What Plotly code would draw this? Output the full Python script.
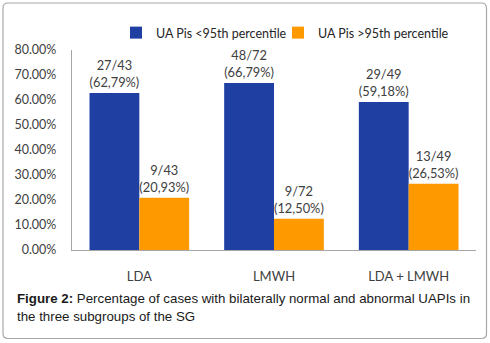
import plotly.graph_objects as go

categories = ["LDA", "LMWH", "LDA + LMWH"]
below_95 = [62.79, 66.79, 59.18]
above_95 = [20.93, 12.50, 26.53]
below_labels = ["27/43<br>(62,79%)", "48/72<br>(66,79%)", "29/49<br>(59,18%)"]
above_labels = ["9/43<br>(20,93%)", "9/72<br>(12,50%)", "13/49<br>(26,53%)"]
y_ticks = [0, 10, 20, 30, 40, 50, 60, 70, 80]
y_tick_labels = ["0.00%", "10.00%", "20.00%", "30.00%", "40.00%", "50.00%", "60.00%", "70.00%", "80.00%"]

W, H = 490, 343
L, R, T, B = 72, 14, 50, 93
PW, PH = W - L - R, H - T - B

def px(x):
    return (x - L) / PW

def py(y):
    return (H - B - y) / PH

BLUE = "#1F3FA2"
ORANGE = "#FF9900"
TXT = "#404040"
FONT = "Lato, Open Sans, sans-serif"

fig = go.Figure()
fig.add_trace(go.Bar(
    x=categories, y=below_95, name="UA Pis <95th percentile",
    marker=dict(color=BLUE, line=dict(width=0)),
    text=below_labels, textposition="outside", cliponaxis=False,
    textfont=dict(color=TXT, size=13, family=FONT), legend="legend",
))
fig.add_trace(go.Bar(
    x=categories, y=above_95, name="UA Pis >95th percentile",
    marker=dict(color=ORANGE, line=dict(width=0)),
    text=above_labels, textposition="outside", cliponaxis=False,
    textfont=dict(color=TXT, size=13, family=FONT), legend="legend2",
))

# rounded border
x0, x1, y0, y1, r = 3, 486.5, 3, 338.5, 5
path = (f"M {px(x0 + r)} {py(y0)} L {px(x1 - r)} {py(y0)} "
        f"Q {px(x1)} {py(y0)} {px(x1)} {py(y0 + r)} "
        f"L {px(x1)} {py(y1 - r)} Q {px(x1)} {py(y1)} {px(x1 - r)} {py(y1)} "
        f"L {px(x0 + r)} {py(y1)} Q {px(x0)} {py(y1)} {px(x0)} {py(y1 - r)} "
        f"L {px(x0)} {py(y0 + r)} Q {px(x0)} {py(y0)} {px(x0 + r)} {py(y0)} Z")
fig.add_shape(type="path", path=path, xref="paper", yref="paper",
              line=dict(color="#A8A8A8", width=1.2), layer="below")

CAP = "Liberation Sans, Arial, sans-serif"
fig.add_annotation(xref="paper", yref="paper", x=px(15), y=py(298), xanchor="left", yanchor="middle",
                   text="<b>Figure 2:</b> Percentage of cases with bilaterally normal and abnormal UAPIs in",
                   showarrow=False, font=dict(family=CAP, size=13.3, color="#1a1a1a"))
fig.add_annotation(xref="paper", yref="paper", x=px(15), y=py(316), xanchor="left", yanchor="middle",
                   text="the three subgroups of the SG",
                   showarrow=False, font=dict(family=CAP, size=13.3, color="#1a1a1a"))

legend_common = dict(orientation="h", yanchor="middle", xanchor="left",
                     font=dict(family=FONT, size=12.5, color="#262626"),
                     bgcolor="rgba(0,0,0,0)", itemclick=False)

fig.update_layout(
    width=W, height=H,
    margin=dict(l=L, r=R, t=T, b=B, autoexpand=False),
    paper_bgcolor="white", plot_bgcolor="white",
    barmode="group", bargap=0.26, bargroupgap=0,
    font=dict(family=FONT, color=TXT, size=13),
    showlegend=True,
    legend=dict(x=px(116), y=py(33), **legend_common),
    legend2=dict(x=px(278), y=py(33), **legend_common),
    xaxis=dict(showline=True, linecolor="#A6A6A6", linewidth=1.2, ticks="", automargin=False,
               tickfont=dict(family=FONT, size=13, color=TXT), ticklabelstandoff=14),
    yaxis=dict(range=[0, 80], tickvals=y_ticks, ticktext=y_tick_labels, automargin=False,
               showgrid=False, zeroline=False, showline=True, linecolor="#A6A6A6", linewidth=1.2,
               ticks="", tickfont=dict(family=FONT, size=12.5, color=TXT), ticklabelstandoff=12),
)

fig.write_html("out.html", config={"displayModeBar": False},
               post_script="document.body.style.margin='0';document.body.style.overflow='hidden';")
